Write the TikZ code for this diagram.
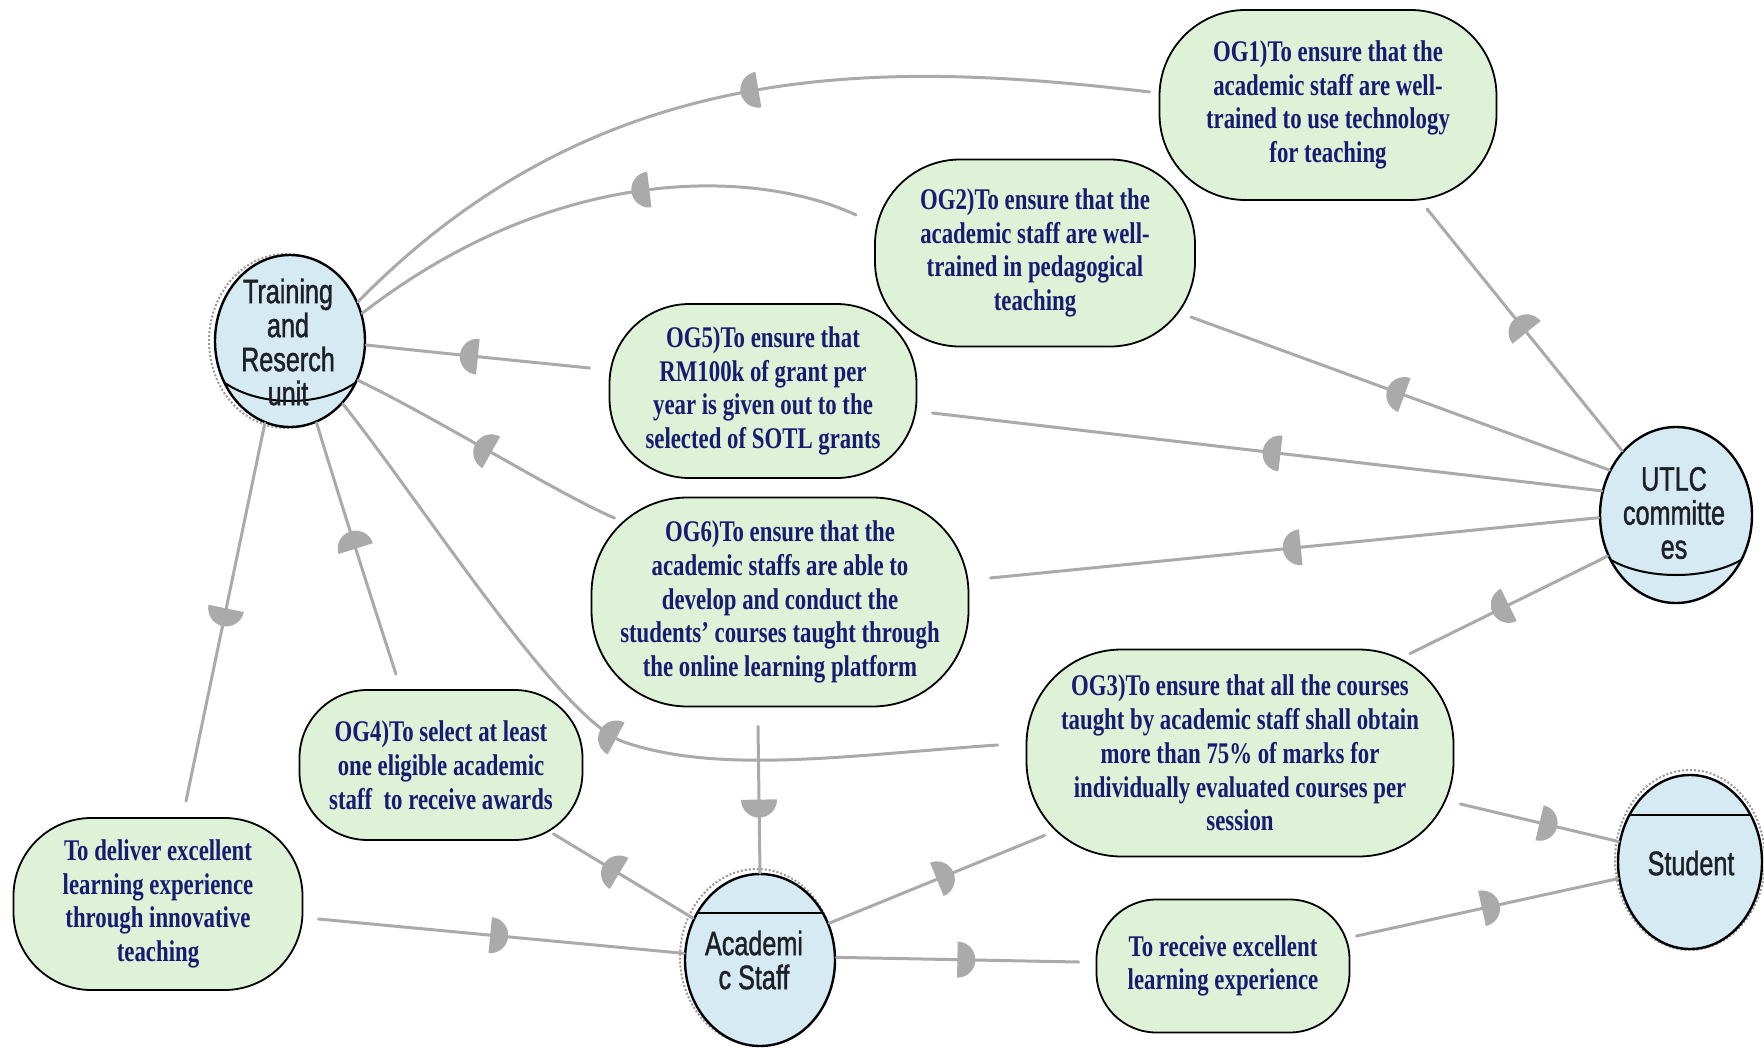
\documentclass[tikz,border=0pt]{standalone}
\usepackage{fontspec}
\usetikzlibrary{shapes.geometric, calc, decorations.markings}
\newfontfamily\goalfont[FakeStretch=0.76]{Liberation Serif}
\newfontfamily\actorfont[FakeStretch=0.74, FakeBold=1.2]{Liberation Sans}
\definecolor{goalfill}{RGB}{221,242,214}
\definecolor{actorfill}{RGB}{214,234,243}
\definecolor{goaltext}{RGB}{24,28,112}
\definecolor{actortext}{RGB}{30,32,38}
\definecolor{lnkgray}{RGB}{170,170,170}
\begin{document}
\begin{tikzpicture}[x=1pt, y=-1pt,
  goal/.style={draw=black, line width=1.8pt, fill=goalfill, text=goaltext, align=center, inner sep=0pt,
     font=\goalfont\bfseries\fontsize{30}{33.75}\selectfont},
  actor/.style={ellipse, draw=black, line width=2.4pt, fill=actorfill, inner sep=0pt},
  actortxt/.style={text=actortext, align=center, inner sep=0pt, font=\actorfont\fontsize{34}{34}\selectfont},
  halo/.style={ellipse, draw=gray!80, line width=2pt, dash pattern=on 2pt off 2pt, inner sep=0pt},
  secline/.style={draw=black, line width=2pt},
  lnk/.style={draw=lnkgray, line width=3pt, line cap=round},
  dep/.style={postaction={decorate, decoration={markings, mark=at position #1 with {\fill[lnkgray] (0,-18) arc[start angle=-90, end angle=90, radius=18] -- cycle;}}}}
]
\fill[white] (0,0) rectangle (1764,1049);
\useasboundingbox (0,0) rectangle (1764,1049);

% goals
\node[goal, minimum width=337pt, minimum height=190pt, rounded corners=86pt] (og1) at (1328,105)
  {OG1)To ensure that the\\academic staff are well-\\trained to use technology\\for teaching};
\node[goal, minimum width=320pt, minimum height=187pt, rounded corners=85pt] (og2) at (1035,253)
  {OG2)To ensure that the\\academic staff are well-\\trained in pedagogical\\teaching};
\node[goal, minimum width=307pt, minimum height=174pt, rounded corners=80pt] (og5) at (763,391)
  {OG5)To ensure that\\RM100k of grant per\\year is given out to the\\selected of SOTL grants};
\node[goal, minimum width=377pt, minimum height=209pt, rounded corners=96pt] (og6) at (780,602)
  {OG6)To ensure that the\\academic staffs are able to\\develop and conduct the\\students’ courses taught through\\the online learning platform};
\node[goal, minimum width=427pt, minimum height=207pt, rounded corners=95pt] (og3) at (1240,753)
  {OG3)To ensure that all the courses\\taught by academic staff shall obtain\\more than 75\% of marks for\\individually evaluated courses per\\session};
\node[goal, minimum width=283pt, minimum height=150pt, rounded corners=68pt] (og4) at (441,765)
  {OG4)To select at least\\one eligible academic\\staff\ \ to receive awards};
\node[goal, minimum width=289pt, minimum height=172pt, rounded corners=78pt] (dlv) at (158,904)
  {To deliver excellent\\learning experience\\through innovative\\teaching};
\node[goal, minimum width=253pt, minimum height=133pt, rounded corners=60pt] (rcv) at (1223,966)
  {To receive excellent\\learning experience};

% actors
\node[halo, minimum width=154pt, minimum height=174pt] (truhalo) at (286,341) {};
\node[halo, minimum width=154pt, minimum height=176pt] (acshalo) at (757,957) {};
\node[halo, minimum width=150pt, minimum height=180pt] (stuhalo) at (1690,860) {};
\node[actor, minimum width=150pt, minimum height=172pt] (tru) at (290,341) {};
\node[actor, minimum width=152pt, minimum height=176pt] (utlc) at (1676,515) {};
\node[actor, minimum width=150pt, minimum height=172pt] (acs) at (760,960) {};
\node[actor, minimum width=144pt, minimum height=174pt] (stu) at (1690,862) {};

\draw[secline] ([shift={(-65,42)}]tru.center) .. controls ([shift={(-30,66)}]tru.center) and ([shift={(30,66)}]tru.center) .. ([shift={(65,42)}]tru.center);
\draw[secline] ([shift={(-65,45)}]utlc.center) .. controls ([shift={(-30,65)}]utlc.center) and ([shift={(30,65)}]utlc.center) .. ([shift={(65,45)}]utlc.center);
\draw[secline] ([shift={(-63,-47)}]acs.center) -- ([shift={(63,-47)}]acs.center);
\draw[secline] ([shift={(-61,-47)}]stu.center) -- ([shift={(61,-47)}]stu.center);

\node[actortxt] (trut) at ([shift={(-2,1)}]tru.center) {Training\\and\\Reserch\\unit};
\node[actortxt] (utlct) at ([shift={(-2,-2)}]utlc.center) {UTLC\\committe\\es};
\node[actortxt] (acst) at ([shift={(-6,0)}]acs.center) {Academi\\c Staff};
\node[actortxt] (stut) at ([shift={(1,1)}]stu.center) {Student};

% dependencies towards the training unit
\draw[lnk, dep=0.46] ($(og1.west)+(-9,-13)$) .. controls (880,60) and (600,55) .. (tru.30);
\draw[lnk, dep=0.40] ($(og2.west)+(-18,-38)$) .. controls (760,170) and (560,160) .. (tru.21);
\draw[lnk, dep=0.50] ($(og5.west)+(-19,-23)$) .. controls (530,362) and (430,352) .. (tru.-3);
\draw[lnk, dep=0.48] ($(og6.west)+(24,-84)$) .. controls (560,495) and (440,420) .. (tru.-30);
\draw[lnk, dep=0.47] ($(og3.west)+(-28,-8)$) .. controls (850,755) and (720,775) .. (624,742)
  .. controls (560,720) and (420,500) .. (tru.-50);
\draw[lnk, dep=0.50] ($(og4.north)+(-45,-15)$) .. controls (375,610) and (340,500) .. (tru.-72);
\draw[lnk, dep=0.49] (tru.-107) -- ($(dlv.north)+(28,-16)$);

% dependencies of the committees
\draw[lnk, dep=0.49] (utlc.130) -- ($(og1.south)+(99,8)$);
\draw[lnk, dep=0.49] (utlc.146) -- ($(og2.east)+(-5,64)$);
\draw[lnk, dep=0.48] (utlc.162) -- ($(og5.east)+(15,22)$);
\draw[lnk, dep=0.49] (utlc.182) -- ($(og6.east)+(21,-24)$);
\draw[lnk, dep=0.50] (utlc.211) -- ($(og3.north)+(170,5)$);

% academic staff and students
\draw[lnk, dep=0.53] (acs.148) -- ($(og4.south east)+(-30,-7)$);
\draw[lnk, dep=0.50] ($(og6.south)+(-22,19)$) -- (acs.north);
\draw[lnk, dep=0.50] (acs.28) -- ($(og3.south west)+(19,-22)$);
\draw[lnk, dep=0.47] ($(dlv.east)+(15,15)$) -- (acs.175);
\draw[lnk, dep=0.50] (acs.2) -- ($(rcv.west)+(-17,-4)$);
\draw[lnk, dep=0.48] ($(rcv.east)+(6,-30)$) -- (stu.193);
\draw[lnk, dep=0.50] ($(og3.east)+(6,51)$) -- (stu.164);
\end{tikzpicture}
\end{document}
